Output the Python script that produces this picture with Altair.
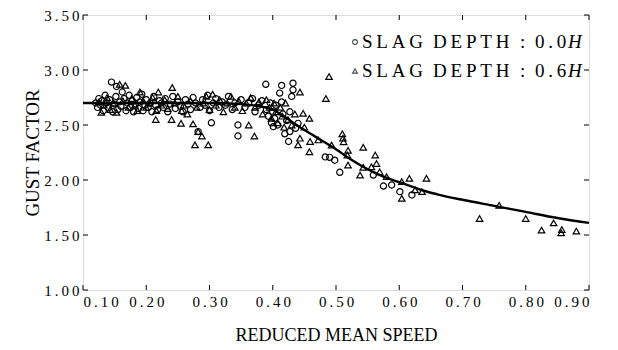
import altair as alt
import pandas as pd

# ---- data ----
circle_x = [0.120, 0.123, 0.125, 0.128, 0.130, 0.132, 0.135, 0.137, 0.140, 0.142, 0.145, 0.147,
            0.150, 0.152, 0.153, 0.155, 0.158, 0.160, 0.162, 0.165, 0.168, 0.170, 0.173, 0.175,
            0.178, 0.180, 0.183, 0.185, 0.188, 0.190, 0.193, 0.195, 0.198,
            0.200, 0.203, 0.206, 0.209, 0.212, 0.215, 0.218, 0.221, 0.224, 0.227, 0.230, 0.234,
            0.238, 0.242, 0.246, 0.250, 0.254, 0.258, 0.262, 0.266, 0.270, 0.274, 0.278, 0.282,
            0.285, 0.289, 0.293, 0.297, 0.300, 0.303, 0.306,
            0.310, 0.315, 0.320, 0.325, 0.330, 0.336, 0.340, 0.345, 0.345, 0.350, 0.356, 0.362,
            0.368, 0.372, 0.378, 0.383, 0.389, 0.390, 0.393, 0.396, 0.398, 0.400, 0.401, 0.403,
            0.405, 0.408, 0.411, 0.414, 0.414, 0.416, 0.419, 0.422, 0.425, 0.427, 0.427, 0.430,
            0.432, 0.432, 0.436, 0.440,
            0.483, 0.490, 0.498, 0.506, 0.559, 0.575, 0.588, 0.601, 0.620]
circle_y = [2.70, 2.66, 2.74, 2.68, 2.72, 2.63, 2.77, 2.70, 2.66, 2.73, 2.89, 2.62,
            2.69, 2.76, 2.85, 2.64, 2.71, 2.67, 2.80, 2.74, 2.63, 2.70, 2.77, 2.66,
            2.72, 2.62, 2.69, 2.75, 2.65, 2.71, 2.78, 2.63, 2.68,
            2.73, 2.66, 2.70, 2.62, 2.76, 2.68, 2.64, 2.72, 2.70, 2.66, 2.74, 2.62,
            2.69, 2.76, 2.65, 2.71, 2.67, 2.62, 2.73, 2.69, 2.64, 2.75, 2.70, 2.44,
            2.66, 2.73, 2.68, 2.77, 2.63, 2.52, 2.70,
            2.74, 2.66, 2.71, 2.68, 2.76, 2.64, 2.70, 2.50, 2.40, 2.73, 2.66, 2.70,
            2.74, 2.62, 2.68, 2.72, 2.87, 2.64, 2.58, 2.70, 2.52, 2.62, 2.485, 2.56,
            2.68, 2.50, 2.79, 2.86, 2.71, 2.60, 2.42, 2.54, 2.35, 2.62, 2.44, 2.76,
            2.88, 2.82, 2.47, 2.515,
            2.21, 2.206, 2.18, 2.07, 2.045, 1.945, 1.955, 1.894, 1.864]

tri_x = [0.125, 0.129, 0.133, 0.138, 0.143, 0.148, 0.153, 0.158, 0.163, 0.167, 0.172, 0.177,
         0.182, 0.186, 0.190, 0.195, 0.200, 0.205, 0.210, 0.215, 0.216, 0.219, 0.224, 0.229,
         0.234, 0.240, 0.241, 0.245, 0.250, 0.255, 0.256, 0.259, 0.265, 0.270, 0.274, 0.277,
         0.280, 0.282, 0.288, 0.290, 0.295, 0.298, 0.300,
         0.305, 0.310, 0.316, 0.322, 0.328, 0.334, 0.340, 0.346, 0.352, 0.358, 0.362, 0.365,
         0.371, 0.372, 0.378, 0.384, 0.390, 0.395, 0.398, 0.402, 0.405, 0.408, 0.412, 0.415,
         0.418, 0.420, 0.424, 0.430, 0.435, 0.443, 0.443, 0.440, 0.448, 0.450, 0.458, 0.459,
         0.458, 0.472, 0.484, 0.489, 0.493, 0.510, 0.511, 0.512, 0.519, 0.518, 0.519, 0.538,
         0.543, 0.543, 0.556, 0.562, 0.564, 0.569, 0.580, 0.604, 0.616, 0.643, 0.604,
         0.625, 0.636, 0.727, 0.758, 0.800, 0.825, 0.844, 0.857, 0.856, 0.880]
tri_y = [2.71, 2.615, 2.68, 2.75, 2.64, 2.70, 2.615, 2.87, 2.72, 2.86, 2.66, 2.74,
         2.68, 2.63, 2.80, 2.72, 2.66, 2.70, 2.75, 2.55, 2.63, 2.80, 2.68, 2.73,
         2.65, 2.55, 2.84, 2.70, 2.76, 2.515, 2.63, 2.68, 2.60, 2.72, 2.51, 2.32,
         2.66, 2.44, 2.40, 2.70, 2.76, 2.32, 2.64,
         2.78, 2.68, 2.73, 2.62, 2.70, 2.76, 2.66, 2.72, 2.63, 2.70, 2.50, 2.75,
         2.40, 2.66, 2.71, 2.60, 2.73, 2.66, 2.56, 2.70, 2.62, 2.52, 2.66, 2.58,
         2.48, 2.70, 2.55, 2.50, 2.60, 2.80, 2.38, 2.32, 2.606, 2.48, 2.56, 2.35,
         2.257, 2.364, 2.74, 2.94, 2.318, 2.42, 2.38, 2.348, 2.27, 2.227, 2.136, 2.045,
         2.297, 2.115, 2.12, 2.227, 2.15, 2.075, 2.03, 1.985, 2.015, 2.015, 1.833,
         1.91, 1.894, 1.65, 1.77, 1.65, 1.545, 1.61, 1.55, 1.52, 1.536]

curve_x = [0.10, 0.20, 0.30, 0.35, 0.38, 0.40, 0.42, 0.44, 0.46, 0.48, 0.50, 0.52, 0.54,
           0.56, 0.58, 0.60, 0.62, 0.64, 0.66, 0.70, 0.75, 0.80, 0.85, 0.90]
curve_y = [2.70, 2.70, 2.70, 2.69, 2.67, 2.64, 2.57, 2.49, 2.42, 2.35, 2.28, 2.20, 2.13,
           2.07, 2.02, 1.98, 1.94, 1.90, 1.87, 1.82, 1.765, 1.71, 1.655, 1.61]

x_ticks = [0.10, 0.20, 0.30, 0.40, 0.50, 0.60, 0.70, 0.80, 0.90]
y_ticks = [1.00, 1.50, 2.00, 2.50, 3.00, 3.50]

legend_words_1 = ["S\u2009L\u2009A\u2009G", "D\u2009E\u2009P\u2009T\u2009H", ":", "0\u2009.\u20090", "H"]
legend_words_2 = ["S\u2009L\u2009A\u2009G", "D\u2009E\u2009P\u2009T\u2009H", ":", "0\u2009.\u20096", "H"]

# ---- chart ----
FONT = "Liberation Serif"
W, H = 506, 275

circles = pd.DataFrame({"x": circle_x, "y": circle_y})
tris = pd.DataFrame({"x": tri_x, "y": tri_y})
curve = pd.DataFrame({"x": curve_x, "y": curve_y})

xscale = alt.Scale(domain=[0.1, 0.9], nice=False, zero=False)
yscale = alt.Scale(domain=[1.0, 3.5], nice=False, zero=False)

label_expr = "join(split(format(datum.value, '.2f'), ''), '\u2009')"

xaxis = alt.Axis(values=x_ticks, labelExpr=label_expr, ticks=False, domain=False, grid=False,
                 labelFont=FONT, labelFontSize=15, labelColor="black", labelPadding=4,
                 title="REDUCED MEAN SPEED", titleFont=FONT, titleFontSize=18,
                 titleFontWeight="normal", titleColor="black", titleY=50,
                 titleBaseline="alphabetic")
yaxis = alt.Axis(values=y_ticks, labelExpr=label_expr, ticks=False, domain=False, grid=False,
                 labelFont=FONT, labelFontSize=15, labelColor="black", labelPadding=4,
                 title="GUST FACTOR", titleFont=FONT, titleFontSize=19,
                 titleFontWeight="normal", titleColor="black", titleX=-45, titleY=H / 2,
                 titleBaseline="alphabetic", titleAngle=-90)

pts_c = alt.Chart(circles).mark_point(shape="circle", filled=False, size=38, stroke="black",
                                      strokeWidth=1.2, opacity=1).encode(
    x=alt.X("x:Q", scale=xscale, axis=xaxis),
    y=alt.Y("y:Q", scale=yscale, axis=yaxis))
pts_t = alt.Chart(tris).mark_point(shape="triangle-up", filled=False, size=42, stroke="black",
                                   strokeWidth=1.2, opacity=1).encode(
    x=alt.X("x:Q", scale=xscale), y=alt.Y("y:Q", scale=yscale))
line = alt.Chart(curve).mark_line(color="black", strokeWidth=2.4, interpolate="monotone").encode(
    x=alt.X("x:Q", scale=xscale), y=alt.Y("y:Q", scale=yscale))

xt = pd.DataFrame({"x": x_ticks})
yt = pd.DataFrame({"y": y_ticks})
tick_b = alt.Chart(xt).mark_rule(color="black", strokeWidth=1).encode(
    x=alt.X("x:Q", scale=xscale), y=alt.value(H), y2=alt.value(H - 5))
tick_t = alt.Chart(xt).mark_rule(color="black", strokeWidth=1).encode(
    x=alt.X("x:Q", scale=xscale), y=alt.value(0), y2=alt.value(5))
tick_l = alt.Chart(yt).mark_rule(color="black", strokeWidth=1).encode(
    y=alt.Y("y:Q", scale=yscale), x=alt.value(0), x2=alt.value(5))
tick_r = alt.Chart(yt).mark_rule(color="black", strokeWidth=1).encode(
    y=alt.Y("y:Q", scale=yscale), x=alt.value(W), x2=alt.value(W - 5))

dummy = pd.DataFrame({"a": [0]})
leg = []
leg.append(alt.Chart(dummy).mark_point(shape="circle", filled=False, size=22, stroke="black",
                                       strokeWidth=1.1).encode(x=alt.value(272), y=alt.value(27)))
leg.append(alt.Chart(dummy).mark_point(shape="triangle-up", filled=False, size=24, stroke="black",
                                       strokeWidth=1.1).encode(x=alt.value(272), y=alt.value(56)))
xs = [279, 350, 437, 452, 485]
for row, (words, yy) in enumerate([(legend_words_1, 33), (legend_words_2, 62)]):
    for i, (wd, xx) in enumerate(zip(words, xs)):
        leg.append(alt.Chart(dummy).mark_text(
            text=wd, font=FONT, fontSize=19, align="left", baseline="alphabetic",
            color="black", fontStyle="italic" if i == 4 else "normal").encode(
            x=alt.value(xx), y=alt.value(yy)))

chart = alt.layer(pts_c, pts_t, line, tick_b, tick_t, tick_l, tick_r, *leg).properties(
    width=W, height=H,
    padding={"left": 83, "top": 15, "right": 29, "bottom": 60},
    autosize=alt.AutoSizeParams(type="none"),
).configure_view(stroke="black", strokeWidth=1.3).configure(background="white")

chart.save("out.html", embed_options={"renderer": "svg", "actions": False})
